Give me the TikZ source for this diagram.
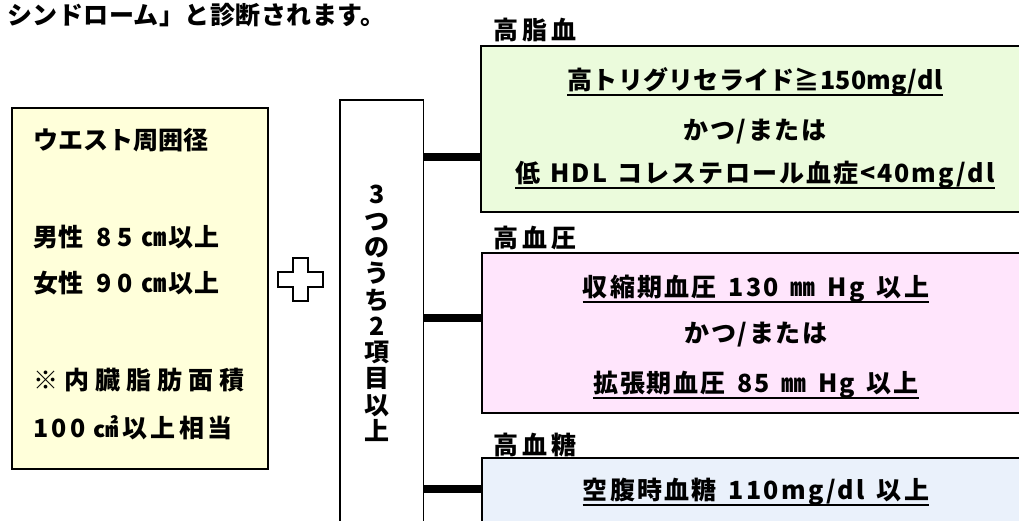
\documentclass[tikz,border=0pt]{standalone}
\usepackage{fontspec}
\setmainfont{Noto Sans CJK JP}
\definecolor{ylw}{HTML}{FFFFDA}
\definecolor{grn}{HTML}{EBFBDC}
\definecolor{pnk}{HTML}{FFE5FC}
\definecolor{blu}{HTML}{EAF1FB}
\newcommand\jfs{\fontsize{25}{30}\selectfont\bfseries}
\newcommand\ls[1]{\addfontfeatures{LetterSpace=#1}}
\newcommand\gap[1][12pt]{\hspace{#1}}
\begin{document}
\begin{tikzpicture}[x=1pt,y=-1pt,
  box/.style={draw=black, line width=1.6pt, inner sep=0pt, anchor=north west},
  txt/.style={font=\jfs, inner sep=0pt, anchor=base west},
  ctr/.style={font=\jfs, inner sep=0pt, anchor=base},
  uline/.style={draw=black, line width=2pt},
  ulab/.style={ctr, text depth=5.5pt, append after command={(\tikzlastnode.south west) edge[uline] (\tikzlastnode.south east)}},
  conn/.style={draw=black, line width=8pt},
]
\useasboundingbox (0,0) rectangle (1019,520);
\clip (0,0) rectangle (1019,520);

\node[txt] (title) at (7,24.5) {\ls{2}シンドローム」と診断されます。};

% waist box
\node[box, fill=ylw, minimum width=256, minimum height=361] (waist) at (11,107) {};
\node[txt] (w1) at (33,149.5) {ウエスト周囲径};
\node[txt] (w2) at (33,246.5) {男性\gap[13pt]{\ls{24}85}\gap[9pt]{\ls{6}㎝以上}};
\node[txt] (w3) at (33,292.5) {女性\gap[13pt]{\ls{24}90}\gap[9pt]{\ls{6}㎝以上}};
\node[txt] (w4) at (33,389.5) {\ls{24}※内臓脂肪面積};
\node[txt] (w5) at (33,437.5) {\ls{14}100\gap[8pt]㎠以上相当};

% plus
\draw[line width=2pt, fill=white] (292.5,258) -- (307.5,258) -- (307.5,272) -- (322.5,272) -- (322.5,287) -- (307.5,287) -- (307.5,301) -- (292.5,301) -- (292.5,287) -- (277.5,287) -- (277.5,272) -- (292.5,272) -- cycle;

% middle box
\node[box, fill=white, minimum width=83.5, minimum height=450] (mid) at (339,99) {};
\node[font=\fontsize{25}{26.3}\selectfont\bfseries, align=center, inner sep=0pt] (vt) at (377,313.5) {3\\つ\\の\\う\\ち\\2\\項\\目\\以\\上};

% right boxes
\node[box, fill=grn, minimum width=560, minimum height=166] (lipid) at (480,45) {};
\node[box, fill=pnk, minimum width=560, minimum height=160] (bp) at (481,252) {};
\node[box, fill=blu, minimum width=560, minimum height=100] (sugar) at (481,457) {};

\node[txt] (l1) at (493,39.5) {\ls{16}高脂血};
\node[txt] (l2) at (493,247.5) {\ls{16}高血圧};
\node[txt] (l3) at (493,454.5) {\ls{16}高血糖};

\node[ulab] (g1) at (755,89.5) {\ls{1}高トリグリセライド≧150mg/dl};
\node[ctr] (g2) at (755,139.5) {\ls{7}かつ/または};
\node[ulab] (g3) at (755,182.5) {\ls{8}低\gap[10pt]HDL\gap[10pt]コレステロール血症<40mg/dl};

\node[ulab] (p1) at (756,296.5) {\ls{9}収縮期血圧\gap130\gap㎜\gap Hg\gap 以上};
\node[ctr] (p2) at (756,342.5) {\ls{7}かつ/または};
\node[ulab] (p3) at (756,392.5) {\ls{7}拡張期血圧\gap85\gap㎜\gap Hg\gap 以上};

\node[ulab] (b1) at (756,499.5) {\ls{9}空腹時血糖\gap110mg/dl\gap 以上};

% connectors
\coordinate (y1) at (0,157);
\coordinate (y2) at (0,317.5);
\coordinate (y3) at (0,488.5);
\draw[conn] (mid.east |- y1) -- (lipid.west |- y1);
\draw[conn] (mid.east |- y2) -- (bp.west |- y2);
\draw[conn] (mid.east |- y3) -- (sugar.west |- y3);
\end{tikzpicture}
\end{document}
